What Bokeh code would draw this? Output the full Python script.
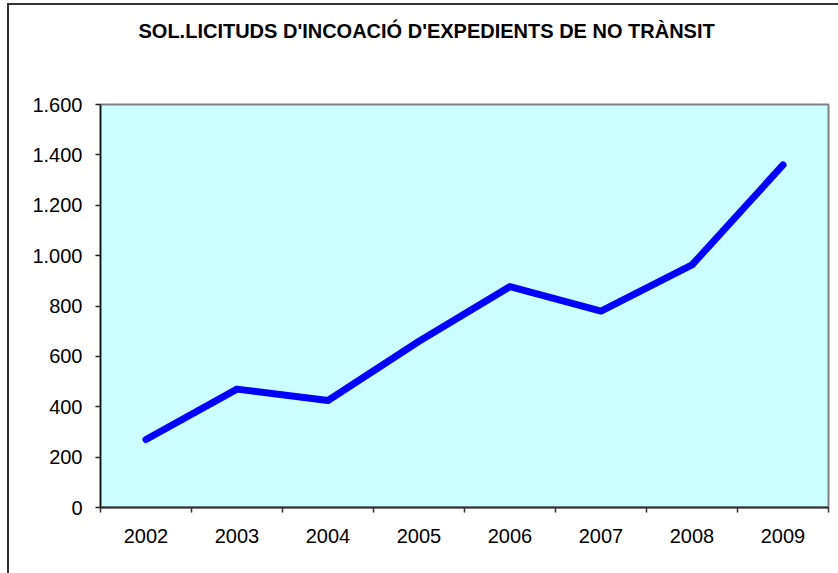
from bokeh.plotting import figure
from bokeh.models import FixedTicker, Title
from bokeh.embed import file_html
from bokeh.resources import INLINE

# ---- data ----
years = ["2002", "2003", "2004", "2005", "2006", "2007", "2008", "2009"]
values = [270, 470, 425, 660, 877, 780, 963, 1360]
y_ticks = [0, 200, 400, 600, 800, 1000, 1200, 1400, 1600]
y_tick_labels = ["0", "200", "400", "600", "800", "1.000", "1.200", "1.400", "1.600"]
title_text = "SOL.LICITUDS D'INCOACIÓ D'EXPEDIENTS DE NO TRÀNSIT"

FONT = "Liberation Sans"
xs = [i + 0.5 for i in range(len(years))]

p = figure(width=838, height=573, x_range=(0, len(years)), y_range=(0, 1600),
           output_backend="svg", toolbar_location=None,
           min_border_left=100, min_border_right=10,
           min_border_top=104, min_border_bottom=66)
p.styles = {
    "background": "linear-gradient(#333333, #333333) 7px 3px / 2px 700px no-repeat, "
                  "linear-gradient(#333333, #333333) 7px 3px / 900px 2px no-repeat, white"
}

p.background_fill_color = "#CCFFFF"
p.border_fill_color = None
p.outline_line_color = "#808080"
p.outline_line_width = 2
p.xgrid.visible = False
p.ygrid.visible = False

p.title.visible = False

# spacer between title and plot area
spacer = Title(text=" ", text_font_size="1px", standoff=59, text_color="white")
p.add_layout(spacer, "above")

# title
main_title = Title(text=title_text, align="left", offset=38, standoff=0,
                   vertical_align="middle", text_font=FONT, text_font_style="bold",
                   text_font_size="20px", text_color="black")
p.add_layout(main_title, "above")

# y axis
p.yaxis.ticker = FixedTicker(ticks=y_ticks, minor_ticks=[])
p.yaxis.major_label_overrides = {t: l for t, l in zip(y_ticks, y_tick_labels)}
p.yaxis.major_tick_out = 5
p.yaxis.major_tick_in = 0
p.yaxis.major_tick_line_color = "#222222"
p.yaxis.major_tick_line_width = 1.5
p.yaxis.axis_line_color = "#111111"
p.yaxis.axis_line_width = 1.5
p.yaxis.major_label_standoff = 13
p.yaxis.major_label_text_font = FONT
p.yaxis.major_label_text_font_size = "20px"
p.yaxis.major_label_text_color = "black"

# x axis
xaxis = p.below[0]
xaxis.ticker = FixedTicker(ticks=xs, minor_ticks=list(range(len(years) + 1)))
xaxis.major_label_overrides = {x: y for x, y in zip(xs, years)}
xaxis.major_tick_line_color = None
xaxis.minor_tick_out = 5
xaxis.minor_tick_in = 0
xaxis.minor_tick_line_color = "#333333"
xaxis.minor_tick_line_width = 1.5
xaxis.axis_line_color = "#333333"
xaxis.axis_line_width = 2
xaxis.major_label_standoff = 15
xaxis.major_label_text_font = FONT
xaxis.major_label_text_font_size = "20px"
xaxis.major_label_text_color = "black"

p.line(x=xs, y=values, line_width=7, line_color="#0000FF",
       line_cap="round", line_join="round")

open("out.html", "w").write(file_html(p, INLINE))
